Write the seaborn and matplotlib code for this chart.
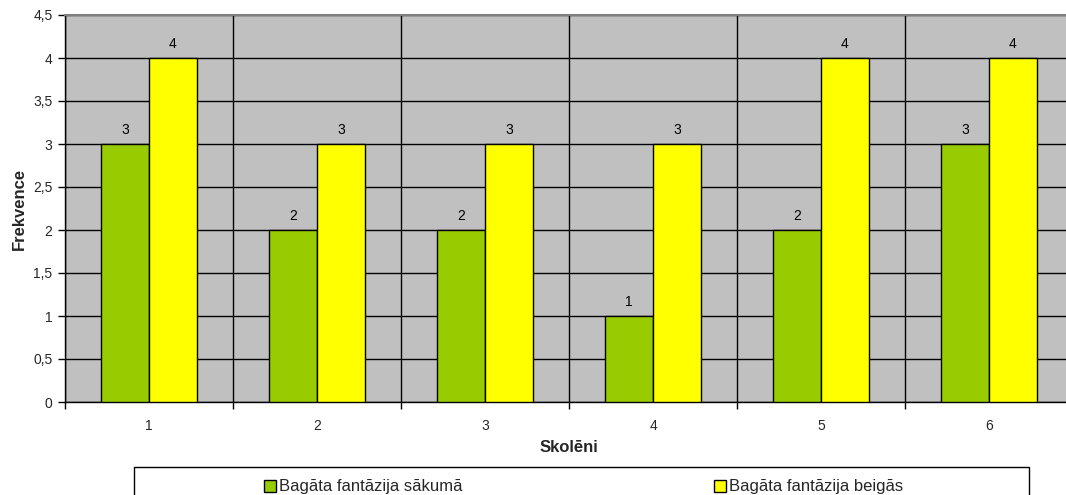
import matplotlib
matplotlib.use("Agg")
import matplotlib.pyplot as plt
import matplotlib.patches as mpatches
from matplotlib.ticker import FuncFormatter, MultipleLocator, FixedLocator
import seaborn as sns
import pandas as pd

categories = ["1", "2", "3", "4", "5", "6"]
series_names = ["Bagāta fantāzija sākumā", "Bagāta fantāzija beigās"]
values_start = [3, 2, 2, 1, 2, 3]
values_end = [4, 3, 3, 3, 4, 4]
colors = ["#99CC00", "#FFFF00"]

df = pd.DataFrame({
    "Skolēni": categories * 2,
    "Frekvence": values_start + values_end,
    "Series": [series_names[0]] * len(categories) + [series_names[1]] * len(categories),
})

sns.set_theme(style="white")
plt.rcParams["font.family"] = ["Liberation Sans", "DejaVu Sans"]

fig = plt.figure(figsize=(10.66, 4.95), dpi=100)
ax = fig.add_axes([65 / 1066, 1 - 402 / 495, (1073 - 65) / 1066, (402 - 15) / 495])
ax.set_facecolor("#C0C0C0")

sns.barplot(data=df, x="Skolēni", y="Frekvence", hue="Series", order=categories,
            hue_order=series_names, palette=colors, width=0.571, ax=ax,
            edgecolor="black", linewidth=1.0, saturation=1, legend=False, zorder=3)

for cont in ax.containers:
    ax.bar_label(cont, fmt="%g", padding=5, fontsize=10, color="black")

ax.set_xlim(-0.5, len(categories) - 0.5)
ax.set_ylim(0, 4.5)
ax.yaxis.set_major_locator(MultipleLocator(0.5))
ax.yaxis.set_major_formatter(FuncFormatter(lambda v, p: ("%g" % v).replace(".", ",")))
ax.xaxis.set_minor_locator(FixedLocator([i + 0.5 for i in range(-1, len(categories))]))

ax.grid(True, axis="y", which="major", color="black", linewidth=1.0, zorder=1)
ax.grid(True, axis="x", which="minor", color="black", linewidth=1.0, zorder=1)
ax.grid(False, axis="x", which="major")
ax.set_axisbelow(True)

ax.tick_params(axis="y", which="major", direction="out", length=5, width=1, color="black",
               labelsize=10, pad=4, left=True)
ax.tick_params(axis="x", which="major", length=0, labelsize=10, pad=12.5)
ax.tick_params(axis="x", which="minor", direction="out", length=5, width=1, color="black",
               bottom=True)

for s in ["left", "bottom"]:
    ax.spines[s].set_color("black")
    ax.spines[s].set_linewidth(1.0)
ax.spines["top"].set_color("#808080")
ax.spines["top"].set_linewidth(1.5)
ax.spines["right"].set_visible(False)

ax.set_xlabel("Skolēni", fontsize=12, fontweight="bold", labelpad=5)
ax.set_ylabel("Frekvence", fontsize=12, fontweight="bold", labelpad=4.5)

# legend frame
frame = mpatches.Rectangle((134 / 1066, 1 - 510 / 495), (1029 - 134) / 1066, (510 - 467) / 495,
                           transform=fig.transFigure, facecolor="white", edgecolor="black",
                           linewidth=1.0)
fig.patches.append(frame)
handles = [mpatches.Patch(facecolor=c, edgecolor="black", linewidth=1.0) for c in colors]
fig.legend(handles, series_names, loc="center", bbox_to_anchor=(583.5 / 1066, 1 - 487 / 495),
           ncol=2, frameon=False, fontsize=12, handlelength=0.72, handleheight=0.72,
           handletextpad=0.18, columnspacing=15.1, borderaxespad=0, borderpad=0)

fig.savefig("out.png", dpi=100)
